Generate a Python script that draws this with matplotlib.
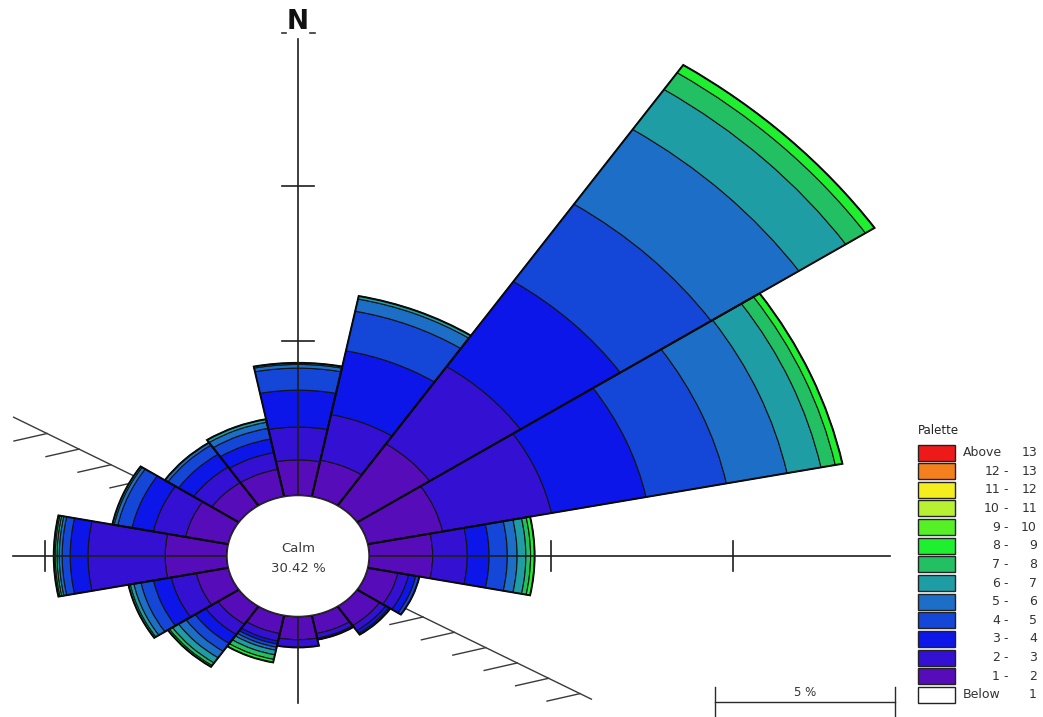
import numpy as np
import matplotlib
matplotlib.use("Agg")
import matplotlib.pyplot as plt
from matplotlib.patches import Ellipse, Rectangle

# ---------------------------------------------------------------- data
directions = ["N", "NNE", "NE", "ENE", "E", "ESE", "SE", "SSE",
              "S", "SSW", "SW", "WSW", "W", "WNW", "NW", "NNW"]

# frequency (%) of each wind-speed class per direction
freq_1_2 = [1.15, 1.20, 2.40, 2.10, 1.75, 0.85, 0.75, 0.60, 0.75, 0.60, 0.70, 0.90, 1.70, 1.20, 0.90, 0.90]
freq_2_3 = [1.06, 1.50, 3.00, 3.05, 0.95, 0.30, 0.20, 0.15, 0.25, 0.25, 0.40, 0.70, 2.12, 0.90, 0.60, 0.55]
freq_3_4 = [1.19, 2.10, 3.30, 2.65, 0.60, 0.20, 0.10, 0.05, 0.00, 0.10, 0.35, 0.50, 0.49, 0.60, 0.50, 0.45]
freq_4_5 = [0.71, 1.30, 3.00, 2.25, 0.50, 0.10, 0.05, 0.00, 0.00, 0.10, 0.30, 0.35, 0.22, 0.40, 0.35, 0.35]
freq_5_6 = [0.12, 0.40, 2.90, 1.70, 0.27, 0.00, 0.00, 0.00, 0.00, 0.10, 0.25, 0.20, 0.08, 0.10, 0.10, 0.20]
freq_6_7 = [0.05, 0.10, 1.55, 0.95, 0.24, 0.00, 0.00, 0.00, 0.00, 0.15, 0.20, 0.10, 0.06, 0.05, 0.00, 0.10]
freq_7_8 = [0.00, 0.00, 0.65, 0.40, 0.13, 0.00, 0.00, 0.00, 0.00, 0.15, 0.10, 0.05, 0.05, 0.00, 0.00, 0.00]
freq_8_9 = [0.00, 0.00, 0.30, 0.20, 0.11, 0.00, 0.00, 0.00, 0.00, 0.10, 0.05, 0.00, 0.04, 0.00, 0.00, 0.00]
calm_pct = 30.42

# legend palette, top to bottom
legend_lo = ["Above", "12", "11", "10", "9", "8", "7", "6", "5", "4", "3", "2", "1", "Below"]
legend_hi = ["13", "13", "12", "11", "10", "9", "8", "7", "6", "5", "4", "3", "2", "1"]
legend_colors = ["#ee1a1a", "#f3801c", "#f4ee1e", "#b8f032", "#56f026", "#1ef030",
                 "#22c062", "#1e9ea4", "#1c6ec6", "#1446d8", "#0c16e8", "#3410d2",
                 "#560cb8", "#ffffff"]

# ---------------------------------------------------------------- layout
W, H = 1043, 717
CX, CY = 298, 556          # rose centre (pixels)
SX, SY = 36.4, 31.0        # pixels per percent, horizontal / vertical
CALM_R = 1.95              # radius of the calm disc, in percent units
RMAX = 20.0

fig = plt.figure(figsize=(W / 100, H / 100), dpi=100)
fig.patch.set_facecolor("white")

def px_axes(z):
    a = fig.add_axes([0, 0, 1, 1], zorder=z)
    a.set_xlim(0, W)
    a.set_ylim(H, 0)
    a.axis("off")
    a.patch.set_visible(False)
    return a

under = px_axes(0)

# rose in a stretched polar axes
ax = fig.add_axes([(CX - RMAX * SX) / W, 1 - (CY + RMAX * SY) / H,
                   2 * RMAX * SX / W, 2 * RMAX * SY / H],
                  projection="polar", zorder=1)
ax.set_aspect("auto")
ax.set_theta_zero_location("N")
ax.set_theta_direction(-1)
ax.set_ylim(0, RMAX)
ax.axis("off")
ax.patch.set_visible(False)

over = px_axes(2)

# ---------------------------------------------------------------- shoreline with hatches
slope = 0.488
line_col = "#3a3a3a"
xs = np.array([13, 592])
under.plot(xs, CY + slope * (xs - CX), color=line_col, lw=1.0, solid_capstyle="butt")
for x0 in list(47 + 32 * np.arange(4)) + list(423 + 31.4 * np.arange(6)):
    y0 = CY + slope * (x0 - CX)
    under.plot([x0, x0 - 33], [y0, y0 + 7.5], color=line_col, lw=1.0)

# ---------------------------------------------------------------- sectors
theta = np.deg2rad(np.arange(len(directions)) * 22.5)
width = 2 * np.pi / len(directions)
classes = [freq_1_2, freq_2_3, freq_3_4, freq_4_5, freq_5_6, freq_6_7, freq_7_8, freq_8_9]
class_colors = legend_colors[-2:-2 - len(classes):-1]

base = np.full(len(directions), CALM_R)
for vals, col in zip(classes, class_colors):
    vals = np.asarray(vals, dtype=float)
    m = vals > 0
    ax.bar(theta[m], vals[m], width=width, bottom=base[m], color=col,
           edgecolor="#141414", linewidth=0.8, align="center")
    base = base + vals
# darker outer outline of each sector
ax.bar(theta, base - CALM_R, width=width, bottom=CALM_R, facecolor="none",
       edgecolor="#0a0a0a", linewidth=1.4, align="center")

# ---------------------------------------------------------------- compass axes
ax_col = "#1e1e1e"
over.plot([CX, CX], [39, 703], color=ax_col, lw=1.2)
over.plot([13, 890], [CY, CY], color=ax_col, lw=1.2)
for k in (1, 2):
    r = CALM_R + 5 * k
    over.plot([CX - 16, CX + 16], [CY - r * SY] * 2, color=ax_col, lw=1.2)
    for sgn in (1, -1):
        x = CX + sgn * r * SX
        if 13 < x < 890:
            over.plot([x, x], [CY - 15, CY + 15], color=ax_col, lw=1.2)

over.text(CX, 22, "N", ha="center", va="center", fontsize=19, fontweight="bold",
          color="#111111", family="DejaVu Sans")
over.plot([282, 286], [33, 33], color="#333333", lw=1.2)
over.plot([310, 315], [33, 33], color="#333333", lw=1.2)

# calm disc
over.add_patch(Ellipse((CX, CY), 2 * CALM_R * SX, 2 * CALM_R * SY,
                       facecolor="white", edgecolor="#2a2a2a", lw=1.0, zorder=5))
over.text(CX, 548, "Calm", ha="center", va="center", fontsize=9.5,
          color="#3a3a3a", zorder=6)
over.text(CX, 568, f"{calm_pct:.2f} %", ha="center", va="center", fontsize=9.5,
          color="#3a3a3a", zorder=6)

# ---------------------------------------------------------------- palette legend
over.text(918, 430, "Palette", ha="left", va="center", fontsize=8.5, color="#222222")
row0, step = 452.5, 18.65
for i, (lo, hi, col) in enumerate(zip(legend_lo, legend_hi, legend_colors)):
    yc = row0 + i * step
    over.add_patch(Rectangle((918, yc - 8), 37, 16, facecolor=col,
                             edgecolor="#222222", lw=1.0))
    if lo in ("Above", "Below"):
        over.text(963, yc, lo, ha="left", va="center", fontsize=9, color="#333333")
    else:
        over.text(1000, yc, lo, ha="right", va="center", fontsize=9, color="#333333")
        over.text(1006, yc, "-", ha="center", va="center", fontsize=9, color="#333333")
    over.text(1037, yc, hi, ha="right", va="center", fontsize=9, color="#333333")

# ---------------------------------------------------------------- scale bar
over.plot([715, 895], [702, 702], color="#2a2a2a", lw=1.0)
for x in (715, 895):
    over.plot([x, x], [687, 717], color="#2a2a2a", lw=1.0)
over.text(805, 692, "5 %", ha="center", va="center", fontsize=8.5, color="#333333")

fig.savefig("out.png", dpi=100, facecolor="white")
